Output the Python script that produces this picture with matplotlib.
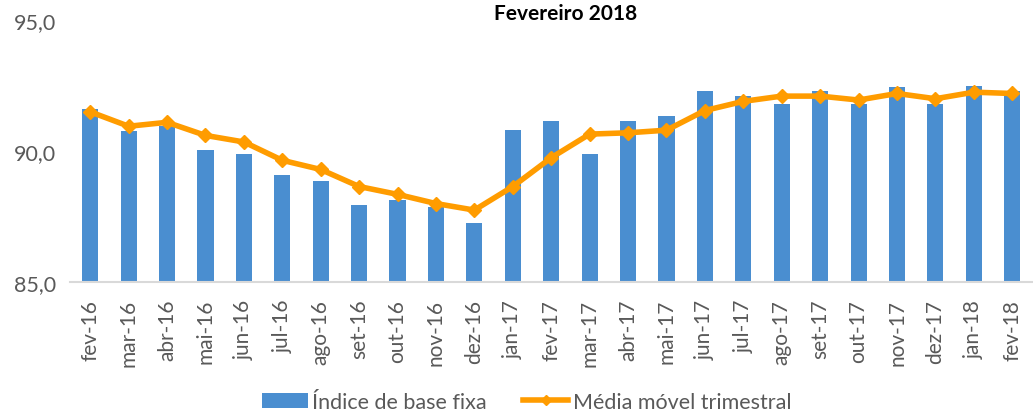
import matplotlib.pyplot as plt
import numpy as np

# mes / indice de base fixa / media movel trimestral
meses = ['fev-16', 'mar-16', 'abr-16', 'mai-16', 'jun-16', 'jul-16', 'ago-16',
         'set-16', 'out-16', 'nov-16', 'dez-16', 'jan-17', 'fev-17', 'mar-17',
         'abr-17', 'mai-17', 'jun-17', 'jul-17', 'ago-17', 'set-17', 'out-17',
         'nov-17', 'dez-17', 'jan-18', 'fev-18']
indice = [91.6, 90.75, 90.95, 90.05, 89.9, 89.1, 88.85,
          87.95, 88.15, 87.85, 87.25, 90.8, 91.15, 89.9,
          91.15, 91.35, 92.3, 92.1, 91.8, 92.3, 91.8,
          92.45, 91.8, 92.5, 92.3]
media = [91.5, 90.95, 91.1, 90.6, 90.35, 89.65, 89.3,
         88.65, 88.35, 88.0, 87.75, 88.65, 89.75, 90.65,
         90.7, 90.8, 91.55, 91.9, 92.1, 92.1, 91.95,
         92.2, 92.0, 92.25, 92.2]

plt.rcParams['font.family'] = ['Lato', 'DejaVu Sans']

fig = plt.figure(figsize=(10.33, 4.14), dpi=100)
ax = fig.add_axes([0.068, 0.316, 0.932, 0.633])

x = np.arange(len(meses))
barras = ax.bar(x, [v - 85 for v in indice], bottom=85, width=0.42, color='#4A8ED0',
                label='Índice de base fixa', zorder=2)
linha, = ax.plot(x, media, color='#FF9C00', lw=4, marker='D', markersize=7,
                 label='Média móvel trimestral', zorder=3)

ax.set_ylim(85, 95)
ax.set_xlim(-0.52, 24.54)
ax.set_yticks([85, 90, 95])
ax.set_yticklabels(['85,0', '90,0', '95,0'], fontsize=15.5, color='#595959')
ax.set_xticks(x)
ax.set_xticklabels(meses, rotation=90, fontsize=15, color='#595959')
ax.tick_params(axis='x', length=0, pad=12)
ax.tick_params(axis='y', length=0, pad=10)

for s in ['top', 'right', 'left']:
    ax.spines[s].set_visible(False)
ax.spines['bottom'].set_color('#D9D9D9')
ax.spines['bottom'].set_linewidth(1.5)

fig.text(0.548, 0.966, 'Fevereiro 2018', ha='center', va='center',
         fontsize=15, fontweight='bold')

leg = fig.legend([barras, linha], ['Índice de base fixa', 'Média móvel trimestral'],
                 loc='center', bbox_to_anchor=(0.51, 0.027), ncol=2, frameon=False,
                 fontsize=15.5, labelcolor='#595959', handlelength=2.1,
                 handletextpad=0.2, columnspacing=1.7)
leg.get_lines()[0].set_markersize(5)

fig.savefig('out.png', dpi=100)
